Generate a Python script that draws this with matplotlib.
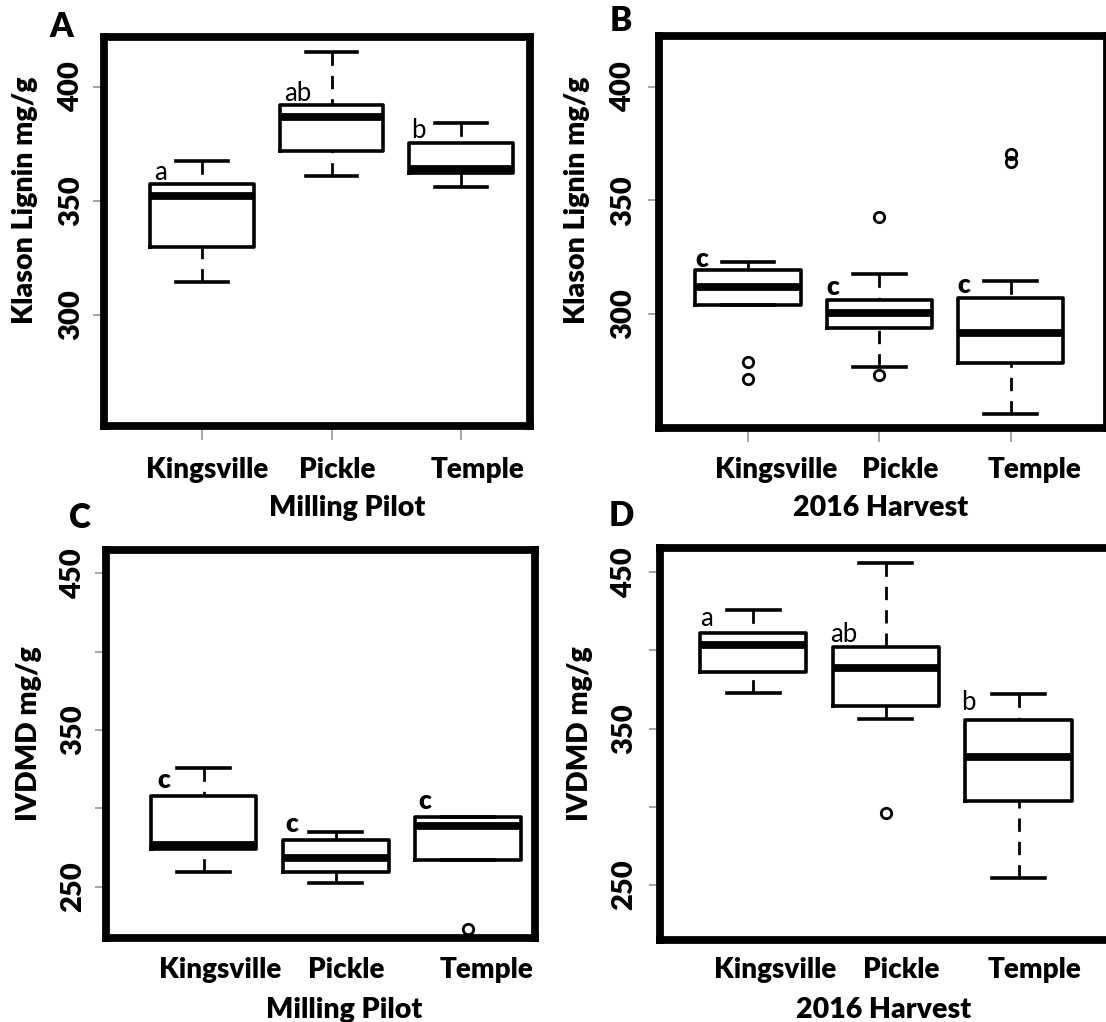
import matplotlib.pyplot as plt

plt.rcParams['font.family'] = ['Lato', 'DejaVu Sans']

sites = ["Kingsville", "Pickle", "Temple"]

# Klason lignin, milling pilot
lig_pilot_lo = [314.3, 361.1, 356.3]
lig_pilot_q1 = [330.0, 372.1, 362.1]
lig_pilot_med = [352.2, 387.0, 363.9]
lig_pilot_q3 = [357.5, 392.1, 375.6]
lig_pilot_hi = [367.7, 415.2, 384.1]
lig_pilot_out = [[], [], []]
lig_pilot_grp = ["a", "ab", "b"]

# Klason lignin, 2016 harvest
lig_2016_lo = [304.0, 276.8, 255.8]
lig_2016_q1 = [304.0, 293.7, 278.6]
lig_2016_med = [311.8, 300.3, 291.5]
lig_2016_q3 = [319.4, 306.2, 307.2]
lig_2016_hi = [323.0, 317.6, 314.5]
lig_2016_out = [[279.0, 271.4], [342.9, 273.1], [370.5, 366.8]]
lig_2016_grp = ["c", "c", "c"]

# IVDMD, milling pilot
dig_pilot_lo = [259.6, 252.6, 267.0]
dig_pilot_q1 = [273.9, 259.6, 267.0]
dig_pilot_med = [276.8, 268.2, 288.7]
dig_pilot_q3 = [308.1, 279.8, 294.7]
dig_pilot_hi = [325.6, 285.1, 294.7]
dig_pilot_out = [[], [], [222.8]]
dig_pilot_grp = ["c", "c", "c"]

# IVDMD, 2016 harvest
dig_2016_lo = [372.6, 356.1, 254.6]
dig_2016_q1 = [386.4, 364.7, 303.9]
dig_2016_med = [403.4, 389.0, 332.0]
dig_2016_q3 = [411.4, 402.0, 355.5]
dig_2016_hi = [425.9, 456.2, 372.0]
dig_2016_out = [[], [296.2], []]
dig_2016_grp = ["a", "ab", "b"]

W, H = 1106, 1022
fig = plt.figure(figsize=(W / 100, H / 100), dpi=100)
PT = 0.72  # points per pixel at 100 dpi
HEAVY = "heavy"


def px_text(x, y, s, **kw):
    fig.text(x / W, 1 - y / H, s, **kw)


panels = [
    dict(tag="A", data=(lig_pilot_lo, lig_pilot_q1, lig_pilot_med, lig_pilot_q3, lig_pilot_hi, lig_pilot_out),
         grp=lig_pilot_grp, grp_bold=False,
         grp_xy=[(0.683, 359.2), (1.741, 393.9), (2.668, 377.5)],
         box=(104, 37, 530, 426), xlim=(0.243, 3.533), ylim=(251.3, 421.9),
         yticks=[300, 350, 400], ylabels=["300", "350", "400"], ylab_x=71,
         xticks=True, ylabel="Klason Lignin mg/g", ylabel_xy=(25, 200),
         cat_y=470, cat_x=[207, 337, 478], xlabel="Milling Pilot", xlabel_xy=(347, 508),
         tag_xy=(61, 27)),
    dict(tag="B", data=(lig_2016_lo, lig_2016_q1, lig_2016_med, lig_2016_q3, lig_2016_hi, lig_2016_out),
         grp=lig_2016_grp, grp_bold=True,
         grp_xy=[(0.646, 320.8), (1.648, 308.4), (2.641, 309.4)],
         box=(659, 36.5, 1107, 428), xlim=(0.322, 3.735), ylim=(249.8, 422.2),
         yticks=[300, 350, 400], ylabels=["300", "350", "400"], ylab_x=623,
         xticks=True, ylabel="Klason Lignin mg/g", ylabel_xy=(577, 200),
         cat_y=470, cat_x=[776, 900, 1035], xlabel="2016 Harvest", xlabel_xy=(881, 508),
         tag_xy=(621, 21)),
    dict(tag="C", data=(dig_pilot_lo, dig_pilot_q1, dig_pilot_med, dig_pilot_q3, dig_pilot_hi, dig_pilot_out),
         grp=dig_pilot_grp, grp_bold=True,
         grp_xy=[(0.697, 312.8), (1.664, 285.1), (2.671, 299.8)],
         box=(106, 549.7, 535, 938), xlim=(0.262, 3.507), ylim=(217.3, 465.1),
         yticks=[250, 300, 350, 400, 450], ylabels=["250", "", "350", "", "450"], ylab_x=73,
         xticks=False, ylabel="IVDMD mg/g", ylabel_xy=(29, 734),
         cat_y=970, cat_x=[220, 346, 487], xlabel="Milling Pilot", xlabel_xy=(344, 1010),
         tag_xy=(80, 518)),
    dict(tag="D", data=(dig_2016_lo, dig_2016_q1, dig_2016_med, dig_2016_q3, dig_2016_hi, dig_2016_out),
         grp=dig_2016_grp, grp_bold=False,
         grp_xy=[(0.653, 415.6), (1.681, 405.6), (2.624, 361.9)],
         box=(659.6, 547.7, 1110, 940), xlim=(0.296, 3.689), ylim=(214.7, 465.7),
         yticks=[250, 300, 350, 400, 450], ylabels=["250", "", "350", "", "450"], ylab_x=624.5,
         xticks=False, ylabel="IVDMD mg/g", ylabel_xy=(580, 734),
         cat_y=970, cat_x=[775, 901, 1035], xlabel="2016 Harvest", xlabel_xy=(884, 1010),
         tag_xy=(621, 516)),
]

tick_len = 11
for p in panels:
    left, top, right, bottom = p["box"]
    ax = fig.add_axes([left / W, 1 - bottom / H, (right - left) / W, (bottom - top) / H])

    lo, q1, med, q3, hi, out = p["data"]
    stats = [dict(whislo=lo[i], q1=q1[i], med=med[i], q3=q3[i], whishi=hi[i], fliers=out[i])
             for i in range(len(sites))]
    art = ax.bxp(stats, positions=[1, 2, 3], widths=0.8, manage_ticks=False,
                 boxprops=dict(color="black", linewidth=2.6),
                 medianprops=dict(color="black", linewidth=5.6, solid_capstyle="butt"),
                 whiskerprops=dict(color="black", linewidth=2.0, linestyle=(0, (4.8, 3.6))),
                 capprops=dict(color="black", linewidth=2.6),
                 flierprops=dict(marker="o", markerfacecolor="none", markeredgecolor="black",
                                 markersize=7.5, markeredgewidth=2.0, linestyle="none"))
    # dashes start at the cap end, as in R
    for w in art["whiskers"]:
        w.set_ydata(w.get_ydata()[::-1])

    ax.set_xlim(*p["xlim"])
    ax.set_ylim(*p["ylim"])

    for sp in ax.spines.values():
        sp.set_linewidth(5.6)
        sp.set_capstyle("projecting")

    ax.set_yticks(p["yticks"], p["ylabels"], rotation=90, va="center", ha="center",
                  fontsize=21, fontweight=HEAVY)
    ax.tick_params(axis="y", length=tick_len * PT, width=1.1, color="#8c8c8c",
                   pad=(left - tick_len - p["ylab_x"]) * PT)
    if p["xticks"]:
        ax.set_xticks([1, 2, 3], ["", "", ""])
        ax.tick_params(axis="x", length=14 * PT, width=1.1, color="#8c8c8c")
    else:
        ax.set_xticks([])

    for (gx, gy), g in zip(p["grp_xy"], p["grp"]):
        ax.text(gx, gy, g, ha="center", va="baseline",
                fontsize=19 if p["grp_bold"] else 18.5,
                fontweight=HEAVY if p["grp_bold"] else "normal")

    for cx, name in zip(p["cat_x"], sites):
        px_text(cx, p["cat_y"], name, ha="center", va="center", fontsize=20, fontweight=HEAVY)
    px_text(*p["xlabel_xy"], p["xlabel"], ha="center", va="center", fontsize=20.5, fontweight=HEAVY)
    px_text(*p["ylabel_xy"], p["ylabel"], ha="center", va="center", rotation=90,
            fontsize=20.5, fontweight=HEAVY)
    px_text(*p["tag_xy"], p["tag"], ha="center", va="center", fontsize=24, fontweight=HEAVY)

fig.savefig("out.png", dpi=100)
